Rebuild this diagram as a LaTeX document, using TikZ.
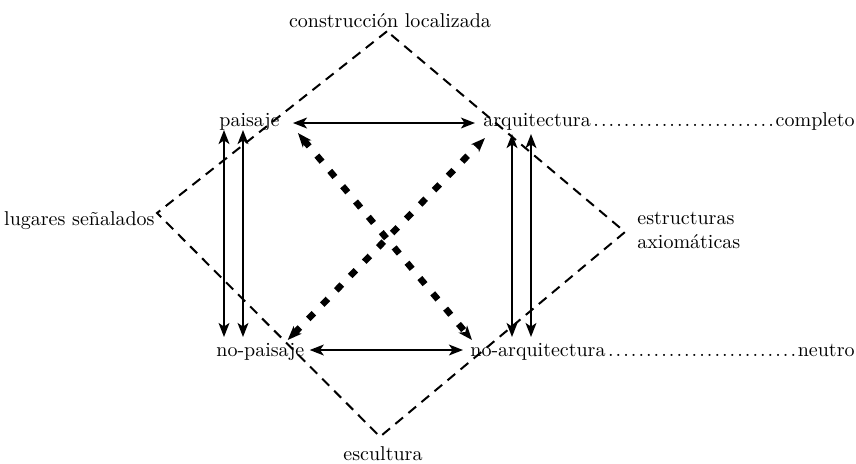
\documentclass[tikz,border=0pt]{standalone}
\usepackage{fontspec}
\usetikzlibrary{arrows.meta,calc,positioning}
\newcommand{\leaderdots}{\leavevmode\cleaders\hbox to 3.8pt{\hss.\hss}\hfill\kern0pt}

\begin{document}
\begin{tikzpicture}[x=0.5pt,y=-0.5pt,
  lbl/.style={inner sep=0pt, text height=6.94pt, text depth=1.94pt},
  frame/.style={dash pattern=on 5pt off 3.5pt, line width=1pt},
  dbl/.style={<->, >={Stealth[length=7pt,width=5.4pt,inset=1.8pt]}, line width=1.1pt},
  xdiag/.style={dbl, line width=3.2pt, dash pattern=on 4pt off 6pt}]
\useasboundingbox (0,0) rectangle (856,463);
% the four terms
\node[lbl, anchor=base west] (paisaje) at (219,126) {paisaje};
\node[lbl, anchor=base west] (arq) at (483,126) {arquitectura};
\node[lbl, anchor=base east] (completo) at (855,126) {completo};
\node[lbl, anchor=base west] (nopaisaje) at (216,356) {no-paisaje};
\node[lbl, anchor=base west] (noarq) at (470,356) {no-arquitectura};
\node[lbl, anchor=base east] (neutro) at (855,356) {neutro};
% leaders
\path let \p1=(arq.base east), \p2=(completo.base west) in
  node[inner sep=0pt, anchor=base west] (dotsA) at (\p1) {\makebox[\dimexpr\x2-\x1\relax]{\leaderdots}};
\path let \p1=(noarq.base east), \p2=(neutro.base west) in
  node[inner sep=0pt, anchor=base west] (dotsB) at (\p1) {\makebox[\dimexpr\x2-\x1\relax]{\leaderdots}};
% outer terms
\node[lbl, anchor=base] (constr) at (390,27) {construcción localizada};
\node[lbl, anchor=base east] (lugares) at (155,225) {lugares señalados};
\node[inner sep=0pt, align=left, anchor=west] (estr) at (637,230) {estructuras\\axiomáticas};
\node[lbl, anchor=base] (escultura) at (383,460) {escultura};
% corners of the expanded field
\coordinate (ctop) at ($(constr.south)+(-3,0)$);
\coordinate (cleft) at ($(lugares.base east)+(2,-12)$);
\coordinate (cbottom) at ($(escultura.north)+(-3,-9)$);
\coordinate (cright) at ($(estr.west)+(-12,2)$);
\draw[frame] (ctop) -- (cleft) -- (cbottom) -- (cright) -- cycle;
% contraries
\draw[dbl] ($(paisaje.base east)+(13,-3)$) -- ($(arq.base west)+(-8,-3)$);
\draw[dbl] ($(nopaisaje.base east)+(5,-6)$) -- ($(noarq.base west)+(-7,-6)$);
% implications
\draw[dbl] ($(paisaje.base west)+(5,4)$) -- ($(paisaje.base west |- nopaisaje.base)+(5,-19)$);
\draw[dbl] ($(paisaje.base west)+(24,4)$) -- ($(paisaje.base west |- nopaisaje.base)+(24,-19)$);
\draw[dbl] ($(arq.base west)+(29,8)$) -- ($(arq.base west |- noarq.base)+(29,-19)$);
\draw[dbl] ($(arq.base west)+(48,8)$) -- ($(arq.base west |- noarq.base)+(48,-19)$);
% contradictories
\draw[xdiag] ($(paisaje.base east)+(18,7)$) -- ($(noarq.base west)+(2,-16)$);
\draw[xdiag] ($(nopaisaje.base east)+(-17,-16)$) -- ($(arq.base west)+(2,12)$);
\end{tikzpicture}
\end{document}
